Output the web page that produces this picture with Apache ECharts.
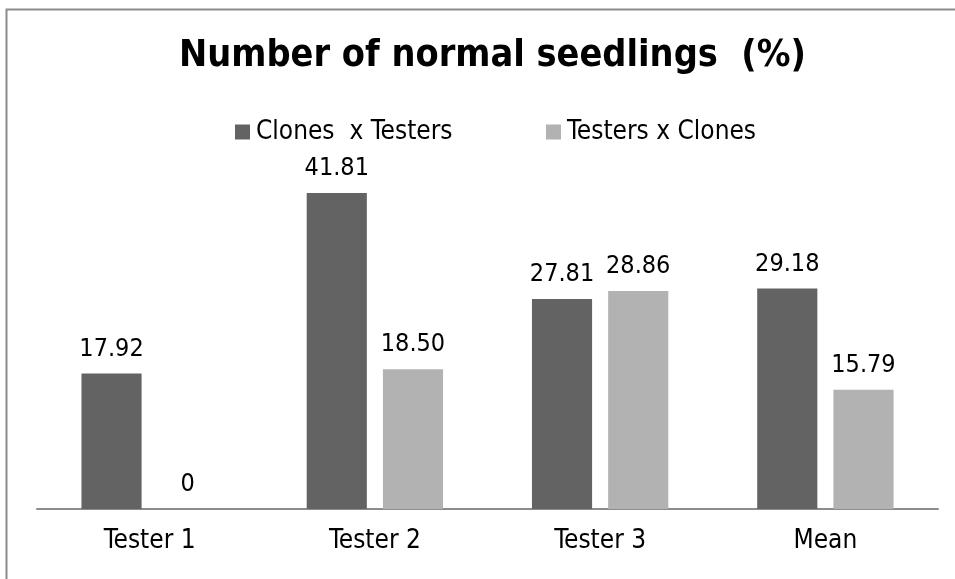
<!DOCTYPE html>
<html><head><meta charset="utf-8">
<script src="https://cdn.jsdelivr.net/npm/echarts@6/dist/echarts.min.js"></script>
<style>html,body{margin:0;padding:0;background:#fff}#c{width:955px;height:579px}</style>
</head><body><div id="c"></div>
<script>
const categories = ['Tester 1', 'Tester 2', 'Tester 3', 'Mean'];
const seriesNames = ['Clones  x Testers', 'Testers x Clones'];
const clonesXTesters = [17.92, 41.81, 27.81, 29.18];
const testersXClones = [0, 18.50, 28.86, 15.79];
const labelFmt = p => p.value === 0 ? '0' : p.value.toFixed(2);
const FONT = '"DejaVu Sans Condensed", "DejaVu Sans", sans-serif';
const chart = echarts.init(document.getElementById('c'), null, {renderer: 'canvas'});
const legendCommon = {
  top: 114, itemWidth: 15, itemHeight: 15, icon: 'rect', itemGap: 0,
  textStyle: {fontFamily: FONT, fontSize: 26, color: '#000', padding: [0, 0, 0, 1]}
};
const valueLabel = {show: true, position: 'top', distance: 12, formatter: labelFmt,
  fontFamily: FONT, fontSize: 25, color: '#000'};
chart.setOption({
  animation: false,
  backgroundColor: '#fff',
  title: {
    text: 'Number of normal seedlings  (%)',
    left: 487.5, textAlign: 'center', top: 32,
    textStyle: {fontFamily: FONT, fontWeight: 'bold', fontSize: 37.5, color: '#000'}
  },
  legend: [
    Object.assign({left: 230, data: [seriesNames[0]]}, legendCommon),
    Object.assign({left: 541, data: [seriesNames[1]]}, legendCommon)
  ],
  grid: {left: 37, right: 17, top: 169, bottom: 70},
  xAxis: {
    type: 'category', data: categories,
    axisLine: {lineStyle: {color: '#8c8c8c', width: 2}},
    axisTick: {show: false},
    axisLabel: {fontFamily: FONT, fontSize: 26, color: '#000', margin: 19}
  },
  yAxis: {type: 'value', min: 0, max: 45, show: false, splitLine: {show: false}},
  graphic: [{
    type: 'rect', shape: {x: 6.5, y: 9.5, width: 990, height: 600},
    style: {fill: 'none', stroke: '#8c8c8c', lineWidth: 2}, silent: true
  }],
  series: [
    {name: seriesNames[0], type: 'bar', data: clonesXTesters, barWidth: '26.7%', barGap: '26.7%',
     itemStyle: {color: '#636363'}, label: valueLabel},
    {name: seriesNames[1], type: 'bar', data: testersXClones, barWidth: '26.7%',
     itemStyle: {color: '#b2b2b2'}, label: valueLabel}
  ]
});
</script></body></html>
